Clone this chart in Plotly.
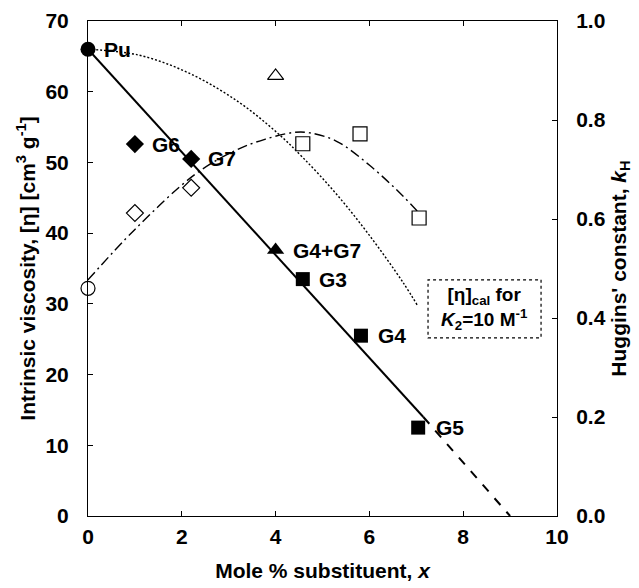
import plotly.graph_objects as go

# Intrinsic viscosity data (left axis)
x_pu, y_pu = [0.0], [66.0]
x_dia, y_dia = [1.0, 2.2], [52.6, 50.5]
x_tri, y_tri = [4.0], [37.6]
x_sq, y_sq = [4.58, 5.82, 7.04], [33.5, 25.5, 12.5]
labels = ["Pu", "G6", "G7", "G4+G7", "G3", "G4", "G5"]
label_x = [0.0, 1.0, 2.2, 4.0, 4.58, 5.82, 7.04]
label_y = [66.0, 52.6, 50.5, 37.6, 33.5, 25.5, 12.5]

# Linear fit line (solid part and dashed extrapolation)
fit_x = [0.0, 7.15]
fit_y = [66.0, 14.0]
ext_x = [7.15, 9.0]
ext_y = [14.0, 0.0]

# Calculated [eta] curve (dotted)
cal_x = [0.0, 1.07, 2.13, 3.2, 4.05, 4.58, 5.3, 6.01, 6.72, 7.04]
cal_y = [66.0, 65.2, 62.7, 58.6, 54.1, 50.7, 45.5, 39.6, 33.0, 29.6]

# Huggins' constant (right axis)
kh_circ_x, kh_circ_y = [0.0], [0.46]
kh_dia_x, kh_dia_y = [1.0, 2.2], [0.612, 0.663]
kh_tri_x, kh_tri_y = [4.0], [0.889]
kh_sq_x, kh_sq_y = [4.58, 5.8, 7.06], [0.752, 0.772, 0.602]

# kH trend curve (dash-dot)
khc_x = [0.0, 1.0, 2.28, 3.13, 3.77, 4.4, 4.73, 5.3, 6.01, 6.72, 7.04]
khc_y = [0.477, 0.579, 0.690, 0.738, 0.761, 0.775, 0.774, 0.757, 0.708, 0.646, 0.614]

FONT = "Liberation Sans, Arial, sans-serif"
FS = 21

fig = go.Figure()
fig.add_trace(go.Scatter(x=cal_x, y=cal_y, mode="lines", line=dict(color="black", width=1.4, dash="2px,2px", shape="spline", smoothing=1.0), yaxis="y"))
fig.add_trace(go.Scatter(x=khc_x, y=khc_y, mode="lines", line=dict(color="black", width=1.4, dash="10px,4px,2px,4px", shape="spline", smoothing=1.0), yaxis="y2"))
fig.add_trace(go.Scatter(x=fit_x, y=fit_y, mode="lines", line=dict(color="black", width=2)))
fig.add_trace(go.Scatter(x=ext_x, y=ext_y, mode="lines", line=dict(color="black", width=2, dash="dash")))

fig.add_trace(go.Scatter(x=x_pu, y=y_pu, mode="markers", marker=dict(symbol="circle", size=15, color="black"), cliponaxis=False))
fig.add_trace(go.Scatter(x=x_dia, y=y_dia, mode="markers", marker=dict(symbol="diamond", size=14, color="black")))
fig.add_trace(go.Scatter(x=x_tri, y=y_tri, mode="markers", marker=dict(symbol="triangle-up", size=15, color="black")))
fig.add_trace(go.Scatter(x=x_sq, y=y_sq, mode="markers", marker=dict(symbol="square", size=14, color="black")))

op = dict(color="white", line=dict(color="black", width=1.2))
fig.add_trace(go.Scatter(x=kh_circ_x, y=kh_circ_y, mode="markers", yaxis="y2", cliponaxis=False, marker=dict(symbol="circle", size=14, **op)))
fig.add_trace(go.Scatter(x=kh_dia_x, y=kh_dia_y, mode="markers", yaxis="y2", marker=dict(symbol="diamond", size=13, **op)))
fig.add_trace(go.Scatter(x=kh_tri_x, y=kh_tri_y, mode="markers", yaxis="y2", marker=dict(symbol="triangle-up", size=14, **op)))
fig.add_trace(go.Scatter(x=kh_sq_x, y=kh_sq_y, mode="markers", yaxis="y2", marker=dict(symbol="square", size=14, **op)))

bold = dict(family=FONT, size=FS, color="black", weight="bold")

offsets = [14, 15, 15, 15, 14, 15, 16]
for t, lx, ly, sx in zip(labels, label_x, label_y, offsets):
    fig.add_annotation(x=lx, y=ly, text=t, showarrow=False, xanchor="left", yanchor="middle",
                       xshift=sx, font=bold)

fig.add_shape(type="rect", x0=7.25, x1=9.66, y0=25.2, y1=33.4, xref="x", yref="y",
              line=dict(color="black", width=1.2, dash="dot"))
fig.add_annotation(x=8.455, y=29.3, xref="x", yref="y", showarrow=False,
                   text="[η]<sub>cal</sub> for<br><i>K</i><sub>2</sub>=10 M<sup>-1</sup>",
                   font=dict(family=FONT, size=19, color="black", weight="bold"), align="center")

axis_common = dict(showline=True, linecolor="black", linewidth=1, ticks="inside", ticklen=5,
                   tickcolor="black", showgrid=False, zeroline=False, tickfont=bold, automargin=False)

fig.update_layout(
    width=639, height=588, margin=dict(l=88, r=82, t=21, b=72),
    paper_bgcolor="white", plot_bgcolor="white", showlegend=False,
    xaxis=dict(range=[0, 10], dtick=2, mirror="ticks", ticklabelstandoff=2, **axis_common,
               title=dict(text="Mole % substituent, <i>x</i>", font=bold, standoff=16)),
    yaxis=dict(range=[0, 70], dtick=10, ticklabelstandoff=14, **axis_common,
               title=dict(text="Intrinsic viscosity, [η] [cm<sup>3</sup> g<sup>-1</sup>]", font=bold, standoff=4)),
    yaxis2=dict(range=[0, 1.0], dtick=0.2, tickformat=".1f", overlaying="y", side="right",
                ticklabelstandoff=14, **axis_common,
                title=dict(text="Huggins' constant, <i>k</i><sub>H</sub>", font=bold, standoff=6)),
)

fig.write_html("out.html")
